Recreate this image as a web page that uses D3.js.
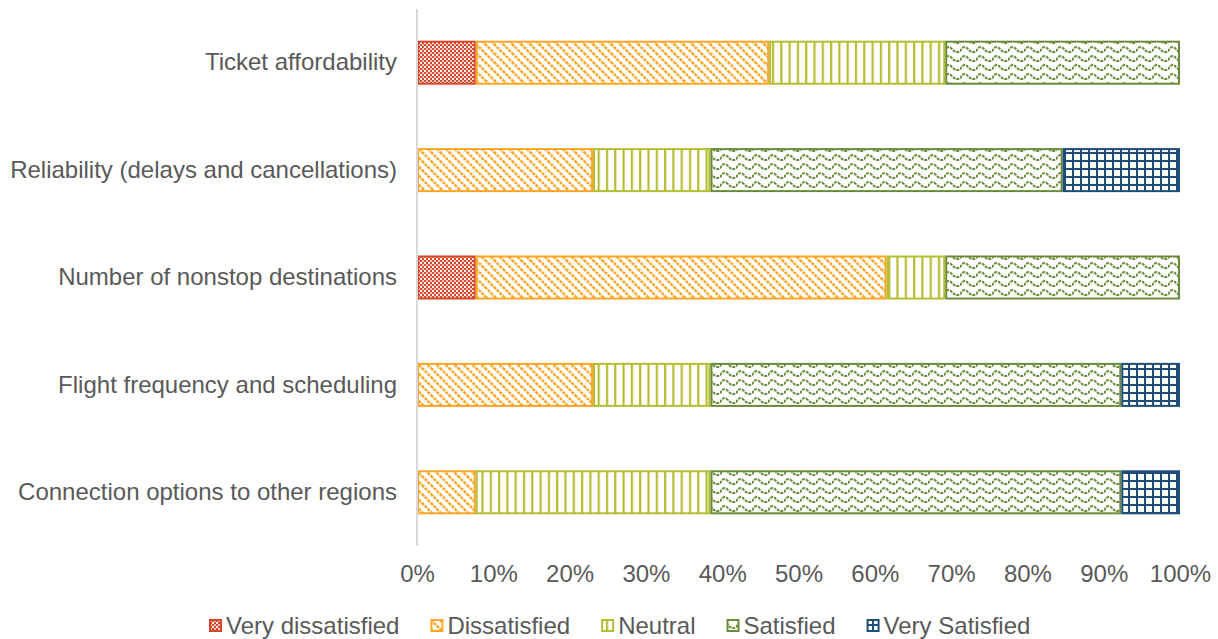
<!DOCTYPE html>
<html>
<head>
<meta charset="utf-8">
<script src="https://cdn.jsdelivr.net/npm/d3@7"></script>
<style>
  html, body { margin: 0; padding: 0; background: #fff; }
  svg { display: block; font-family: "Liberation Sans", Arial, sans-serif; }
</style>
</head>
<body>
<svg id="chart" width="1218" height="639"></svg>
<script>
// Data: number of responses (n = 13) per category
const categories = [
  "Ticket affordability",
  "Reliability (delays and cancellations)",
  "Number of nonstop destinations",
  "Flight frequency and scheduling",
  "Connection options to other regions"
];
const seriesNames = ["Very dissatisfied", "Dissatisfied", "Neutral", "Satisfied", "Very Satisfied"];
const veryDissatisfied = [1, 0, 1, 0, 0];
const dissatisfied     = [5, 3, 7, 3, 1];
const neutral          = [3, 2, 1, 2, 4];
const satisfied        = [4, 6, 4, 7, 7];
const verySatisfied    = [0, 2, 0, 1, 1];
const tickValues = [0, 0.1, 0.2, 0.3, 0.4, 0.5, 0.6, 0.7, 0.8, 0.9, 1.0];

const colors = ["#D9472B", "#FFA526", "#B3BE33", "#6A8C3A", "#1F4E79"];
const keys = ["vd", "d", "n", "s", "vs"];
const FONT = 24;

const rows = categories.map((c, i) => ({
  category: c,
  vd: veryDissatisfied[i], d: dissatisfied[i], n: neutral[i], s: satisfied[i], vs: verySatisfied[i]
}));

const svg = d3.select("#chart");
const defs = svg.append("defs");

// Patterns
// Very dissatisfied: small checkerboard
let p = defs.append("pattern").attr("id", "pat0").attr("patternUnits", "userSpaceOnUse").attr("width", 4).attr("height", 4);
p.append("rect").attr("width", 4).attr("height", 4).attr("fill", "#fff");
p.append("rect").attr("x", 0).attr("y", 0).attr("width", 2).attr("height", 2).attr("fill", colors[0]);
p.append("rect").attr("x", 2).attr("y", 2).attr("width", 2).attr("height", 2).attr("fill", colors[0]);
p.append("rect").attr("x", 2).attr("y", 0).attr("width", 2).attr("height", 2).attr("fill", colors[0]).attr("opacity", 0.3);

// Dissatisfied: dashed downward diagonal
p = defs.append("pattern").attr("id", "pat1").attr("patternUnits", "userSpaceOnUse").attr("width", 9).attr("height", 9);
p.append("rect").attr("width", 9).attr("height", 9).attr("fill", "#fff");
p.append("path").attr("d", "M-1,-1 L10,10 M-1,8 L1,10 M8,-1 L10,1").attr("stroke", colors[1]).attr("stroke-width", 2.4).attr("stroke-dasharray", "3,1");

// Neutral: vertical lines
p = defs.append("pattern").attr("id", "pat2").attr("patternUnits", "userSpaceOnUse").attr("width", 8.3).attr("height", 8);
p.append("rect").attr("width", 8.3).attr("height", 8).attr("fill", "#fff");
p.append("rect").attr("x", 0).attr("y", 0).attr("width", 2.2).attr("height", 8).attr("fill", colors[2]);

// Satisfied: wave
p = defs.append("pattern").attr("id", "pat3").attr("patternUnits", "userSpaceOnUse").attr("width", 16).attr("height", 9);
p.append("rect").attr("width", 16).attr("height", 9).attr("fill", "#fff");
p.append("path").attr("d", "M0,6.5 C3,1 5,1 8,4 C11,7.5 13,7.5 16,6.5").attr("stroke", colors[3]).attr("stroke-width", 2).attr("fill", "none").attr("stroke-dasharray", "3,1");

// Very satisfied: grid
p = defs.append("pattern").attr("id", "pat4").attr("patternUnits", "userSpaceOnUse").attr("width", 8).attr("height", 8);
p.append("rect").attr("width", 8).attr("height", 8).attr("fill", "#fff");
p.append("rect").attr("x", 0).attr("y", 0).attr("width", 2).attr("height", 8).attr("fill", colors[4]);
p.append("rect").attr("x", 0).attr("y", 0).attr("width", 8).attr("height", 2).attr("fill", colors[4]);

// Scales
const x = d3.scaleLinear().domain([0, 1]).range([417, 1180]);
const y = d3.scaleBand().domain(categories).range([9, 546]).paddingInner(0.59).paddingOuter(0.295);

const stack = d3.stack().keys(keys).offset(d3.stackOffsetExpand);
const stacked = stack(rows);

// Bars
const gBars = svg.append("g");
stacked.forEach((layer, si) => {
  gBars.append("g").selectAll("rect")
    .data(layer.filter(d => d[1] - d[0] > 0))
    .join("rect")
    .attr("x", d => x(d[0]) + 1)
    .attr("y", d => y(d.data.category) + 1)
    .attr("width", d => Math.max(0, x(d[1]) - x(d[0]) - 2))
    .attr("height", y.bandwidth() - 2)
    .attr("fill", `url(#pat${si})`)
    .attr("stroke", colors[si])
    .attr("stroke-width", 2);
});

// Vertical axis line
svg.append("line")
  .attr("x1", x(0)).attr("x2", x(0))
  .attr("y1", 9).attr("y2", 546)
  .attr("stroke", "#D9D9D9").attr("stroke-width", 2);

// Category labels
const yAxis = d3.axisLeft(y).tickSize(0).tickPadding(20);
const gy = svg.append("g").attr("transform", `translate(${x(0)},0)`).call(yAxis);
gy.select(".domain").remove();
gy.selectAll("text").attr("font-size", FONT).attr("fill", "#595959").attr("font-family", "Liberation Sans, Arial, sans-serif");

// X tick labels
const xAxis = d3.axisBottom(x).tickValues(tickValues).tickFormat(d3.format(".0%")).tickSize(0).tickPadding(19);
const gx = svg.append("g").attr("transform", `translate(0,546)`).call(xAxis);
gx.select(".domain").remove();
gx.selectAll("text").attr("font-size", FONT).attr("fill", "#595959").attr("font-family", "Liberation Sans, Arial, sans-serif");

// Legend
const legend = svg.append("g");
let lx = 209;
seriesNames.forEach((name, i) => {
  const g = legend.append("g");
  g.append("rect").attr("x", lx + 1).attr("y", 620).attr("width", 11).attr("height", 11)
    .attr("fill", `url(#pat${i})`).attr("stroke", colors[i]).attr("stroke-width", 2);
  const t = g.append("text").attr("x", lx + 17).attr("y", 634)
    .attr("font-size", FONT).attr("fill", "#595959").text(name);
  const w = t.node().getComputedTextLength();
  lx = lx + 17 + w + 31;
});
</script>
</body>
</html>
